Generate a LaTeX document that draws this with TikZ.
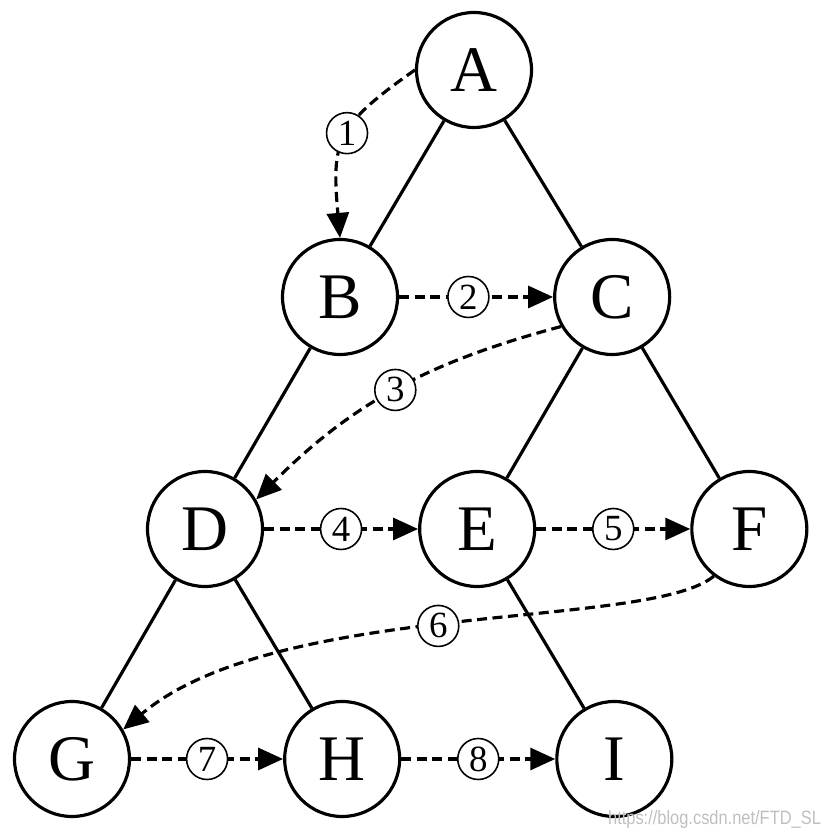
\documentclass[tikz,border=0pt]{standalone}
\usepackage{fontspec}
\setmainfont{Liberation Serif}
\newfontfamily\marksans{Liberation Sans}
\usepackage{xcolor}
\usepackage{tikz}
\usetikzlibrary{arrows.meta,positioning}

\begin{document}
\begin{tikzpicture}[
  node distance=1.54cm,
  vert/.style={circle, draw=black, line width=0.9pt, fill=white, minimum size=1.15cm,
               inner sep=0pt, font=\fontsize{18.5}{18.5}\selectfont},
  edge/.style={line width=0.9pt},
  visit/.style={-{Triangle[length=2.5mm,width=2.2mm]}, line width=0.9pt,
                dash pattern=on 1mm off 0.55mm},
  num/.style={circle, draw=black, solid, fill=white, line width=0.45pt,
              minimum size=0.41cm, inner sep=0pt, font=\fontsize{10.5}{10.5}\selectfont}
]
\useasboundingbox (0,0) rectangle (8.26,8.38);
\node[vert] (A) at (4.74,7.68) {A};
\node[vert] (B) at (3.40,5.41) {B};
\node[vert] (C) [right=of B] {C};
\node[vert] (D) at (2.05,3.09) {D};
\node[vert] (E) [right=of D] {E};
\node[vert] (F) [right=of E] {F};
\node[vert] (G) at (0.72,0.79) {G};
\node[vert] (H) [right=1.52cm of G] {H};
\node[vert] (I) [right=of H] {I};

\draw[edge] (A) -- (B);
\draw[edge] (A) -- (C);
\draw[edge] (B) -- (D);
\draw[edge] (C) -- (E);
\draw[edge] (C) -- (F);
\draw[edge] (D) -- (G);
\draw[edge] (D) -- (H);
\draw[edge] (E) -- (I);

\draw[visit] (A.west) to[out=215,in=95,looseness=1.35] node[num,pos=0.46]{1} (B.north);
\draw[visit] (B) -- node[num,pos=0.45]{2} (C);
\draw[visit] (C.210) to[out=195,in=45] node[num]{3} (D.30);
\draw[visit] (D) -- node[num]{4} (E);
\draw[visit] (E) -- node[num]{5} (F);
\draw[visit] (F.233) to[out=220,in=40,out looseness=0.35,in looseness=0.85]
  node[num,pos=0.52]{6} (G.30);
\draw[visit] (G) -- node[num]{7} (H);
\draw[visit] (H) -- node[num]{8} (I);

\node[font=\marksans\fontsize{5.5}{5.5}\selectfont, text=black!25, xscale=0.85]
  (mark) at (7.145,0.18) {https://blog.csdn.net/FTD\_SL};
\end{tikzpicture}
\end{document}
